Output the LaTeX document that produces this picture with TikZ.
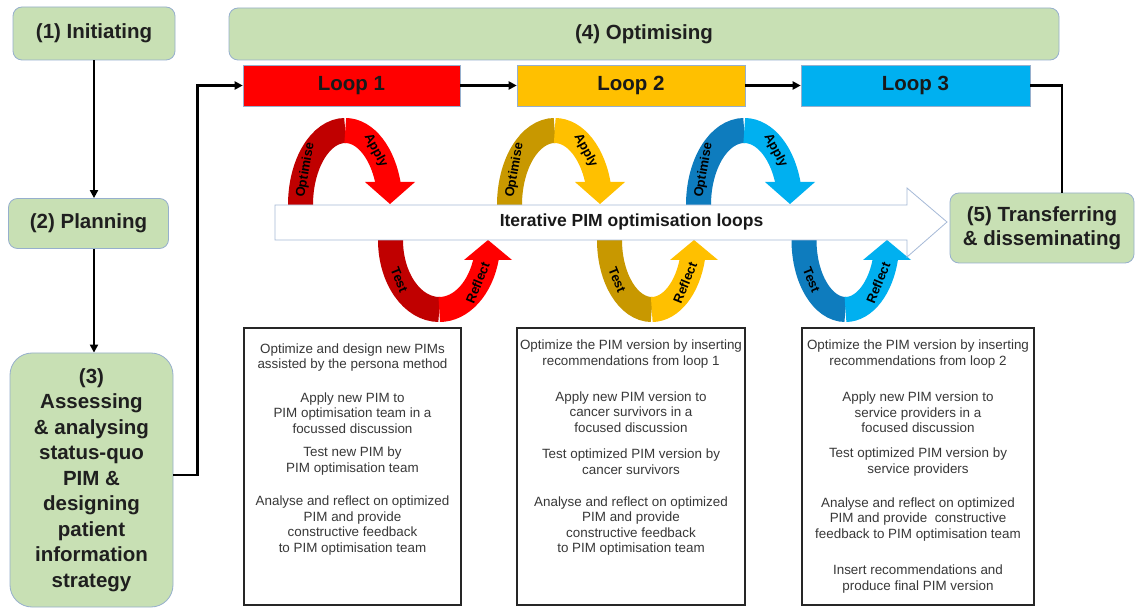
\documentclass[tikz,border=0pt]{standalone}
\usepackage{fontspec}
\setmainfont{Liberation Sans}
\usetikzlibrary{arrows.meta}

\definecolor{phasegreen}{RGB}{200,224,180}
\definecolor{phaseedge}{RGB}{150,175,205}
\definecolor{redD}{RGB}{192,0,0}
\definecolor{redB}{RGB}{255,0,0}
\definecolor{yelD}{RGB}{200,152,0}
\definecolor{yelB}{RGB}{255,192,0}
\definecolor{bluD}{RGB}{14,124,190}
\definecolor{bluB}{RGB}{0,176,240}
\definecolor{arrowedge}{RGB}{165,185,215}

\tikzset{
  phase/.style={draw=phaseedge, line width=0.8pt, fill=phasegreen, rounded corners=9pt,
    font={\fontsize{20.5}{25.5}\selectfont\bfseries}, text=black!88, align=center, inner sep=0pt},
  loopbar/.style={draw=phaseedge, line width=0.6pt, minimum height=41pt, inner sep=0pt,
    font={\fontsize{20.5}{24}\selectfont\bfseries}, text=black!90},
  conn/.style={line width=2.5pt, -{Triangle[length=8pt,width=8pt]}},
  plainconn/.style={line width=2.5pt},
  band/.style={line width=25pt},
  bandtxt/.style={font={\fontsize{13}{13}\selectfont\bfseries}, text=black, inner sep=0pt},
  stepbox/.style={draw=black!85, line width=2pt, minimum height=277pt},
  steptxt/.style={font={\fontsize{13.4}{15.6}\selectfont}, text=black!78, align=center, inner sep=0pt},
}

% one optimisation loop: upper ribbon (Optimise/Apply) and lower ribbon (Test/Reflect)
% #1 name prefix, #2 upper centre x, #3 upper x radius, #4 lower centre x, #5 lower x radius,
% #6 shaded colour, #7 bright colour
\newcommand{\pimloop}[7]{%
  \draw[band, #6] (#2-#3,-205) arc[start angle=180, end angle=90, x radius=#3pt, y radius=74.5pt];
  \draw[band, #7] (#2,-130.5) arc[start angle=90, end angle=14, x radius=#3pt, y radius=74.5pt];
  \fill[#7] (#2+#3-25,-182) -- (#2+#3+25,-182) -- (#2+#3,-204) -- cycle;
  \draw[band, #6] (#4-#5,-240) arc[start angle=180, end angle=270, x radius=#5pt, y radius=69.5pt];
  \draw[band, #7] (#4,-309.5) arc[start angle=270, end angle=346, x radius=#5pt, y radius=69.5pt];
  \fill[#7] (#4+#5-24,-260) -- (#4+#5+24,-260) -- (#4+#5,-240) -- cycle;
  \node[bandtxt, rotate=80] (#1opt) at ([shift={(152:#3pt and 74.5pt)}]#2,-205) {Optimise};
  \node[bandtxt, rotate=-62] (#1app) at ([shift={(47:#3pt and 74.5pt)}]#2,-205) {Apply};
  \node[bandtxt, rotate=-68] (#1tst) at ([shift={(215:#5pt and 69.5pt)}]#4,-240) {Test};
  \node[bandtxt, rotate=68] (#1ref) at ([shift={(322:#5pt and 69.5pt)}]#4,-240) {Reflect};
}

\begin{document}
\begin{tikzpicture}[x=1pt, y=1pt]
\useasboundingbox (0,0) rectangle (1135,-609);
\fill[white] (0,0) rectangle (1135,-609);

% phases
\node[phase, minimum width=162pt, minimum height=53pt] (b1) at (94,-33.5) {(1) Initiating};
\node[phase, minimum width=160pt, minimum height=50pt] (b2) at (88.5,-223.5) {(2) Planning};
\node[phase, rounded corners=22pt, minimum width=163pt, minimum height=254pt] (b3) at (91.5,-480)
  {(3)\\Assessing\\\& analysing\\status-quo\\PIM \&\\designing\\patient\\information\\strategy};
\node[phase, minimum width=830pt, minimum height=52pt] (b4) at (644,-34) {(4) Optimising};
\node[phase, minimum width=184pt, minimum height=70pt, font={\fontsize{20.5}{24}\selectfont\bfseries}]
  (b5) at (1042,-228) {(5) Transferring\\\& disseminating};

% loop headers
\node[loopbar, fill=redB, minimum width=217pt] (L1) at (351.5,-85.5) {Loop 1};
\node[loopbar, fill=yelB, minimum width=228pt] (L2) at (631,-85.5) {Loop 2};
\node[loopbar, fill=bluB, minimum width=229pt] (L3) at (915.5,-85.5) {Loop 3};

% ribbons
\pimloop{la}{345.25}{44.75}{439.25}{48.75}{redD}{redB}
\pimloop{lb}{554.75}{45.25}{651.75}{42.25}{yelD}{yelB}
\pimloop{lc}{744.25}{45.75}{845.5}{41.5}{bluD}{bluB}

% iterative arrow
\draw[draw=arrowedge, line width=0.8pt, fill=white]
  (275,-205) -- (907,-205) -- (907,-188) -- (947,-222) -- (907,-257) -- (907,-240) -- (275,-240) -- cycle;
\node[font={\fontsize{17.5}{20}\selectfont\bfseries}, text=black!90, inner sep=0pt] (iter) at (631.5,-222)
  {Iterative PIM optimisation loops};

% connectors
\draw[conn] (b1.south) -- (b1.south |- b2.north);
\draw[conn] (b2.south -| b1.south) -- (b1.south |- b3.north);
\draw[conn] ([yshift=5pt]b3.east) -- ++(24,0) |- (L1.west);
\draw[conn] (L1.east) -- (L2.west);
\draw[conn] (L2.east) -- (L3.west);
\draw[plainconn] (L3.east) -| ([xshift=20pt]b5.north);

% step descriptions
\node[stepbox, minimum width=217pt] (s1) at (352.5,-466.5) {};
\node[stepbox, minimum width=228pt] (s2) at (631,-466.5) {};
\node[stepbox, minimum width=232pt] (s3) at (918,-466.5) {};

\node[steptxt] (s1a) at (352.5,-357.5) {Optimize and design new PIMs\\assisted by the persona method};
\node[steptxt] (s1b) at (352.5,-413) {Apply new PIM to\\PIM optimisation team in a\\focussed discussion};
\node[steptxt] (s1c) at (352.5,-461) {Test new PIM by\\PIM optimisation team};
\node[steptxt] (s1d) at (352.5,-525.5) {Analyse and reflect on optimized\\PIM and provide\\constructive feedback\\to PIM optimisation team};

\node[steptxt] (s2a) at (631,-354) {Optimize the PIM version by inserting\\recommendations from loop 1};
\node[steptxt] (s2b) at (631,-412) {Apply new PIM version to\\cancer survivors in a\\focused discussion};
\node[steptxt] (s2c) at (631,-462) {Test optimized PIM version by\\cancer survivors};
\node[steptxt] (s2d) at (631,-526) {Analyse and reflect on optimized\\PIM and provide\\constructive feedback\\to PIM optimisation team};

\node[steptxt] (s3a) at (918,-354) {Optimize the PIM version by inserting\\recommendations from loop 2};
\node[steptxt] (s3b) at (918,-412.5) {Apply new PIM version to\\service providers in a\\focused discussion};
\node[steptxt] (s3c) at (918,-462) {Test optimized PIM version by\\service providers};
\node[steptxt] (s3d) at (918,-519.5) {Analyse and reflect on optimized\\PIM and provide\ \ constructive\\feedback to PIM optimisation team};
\node[steptxt] (s3e) at (918,-579) {Insert recommendations and\\produce final PIM version};
\end{tikzpicture}
\end{document}
